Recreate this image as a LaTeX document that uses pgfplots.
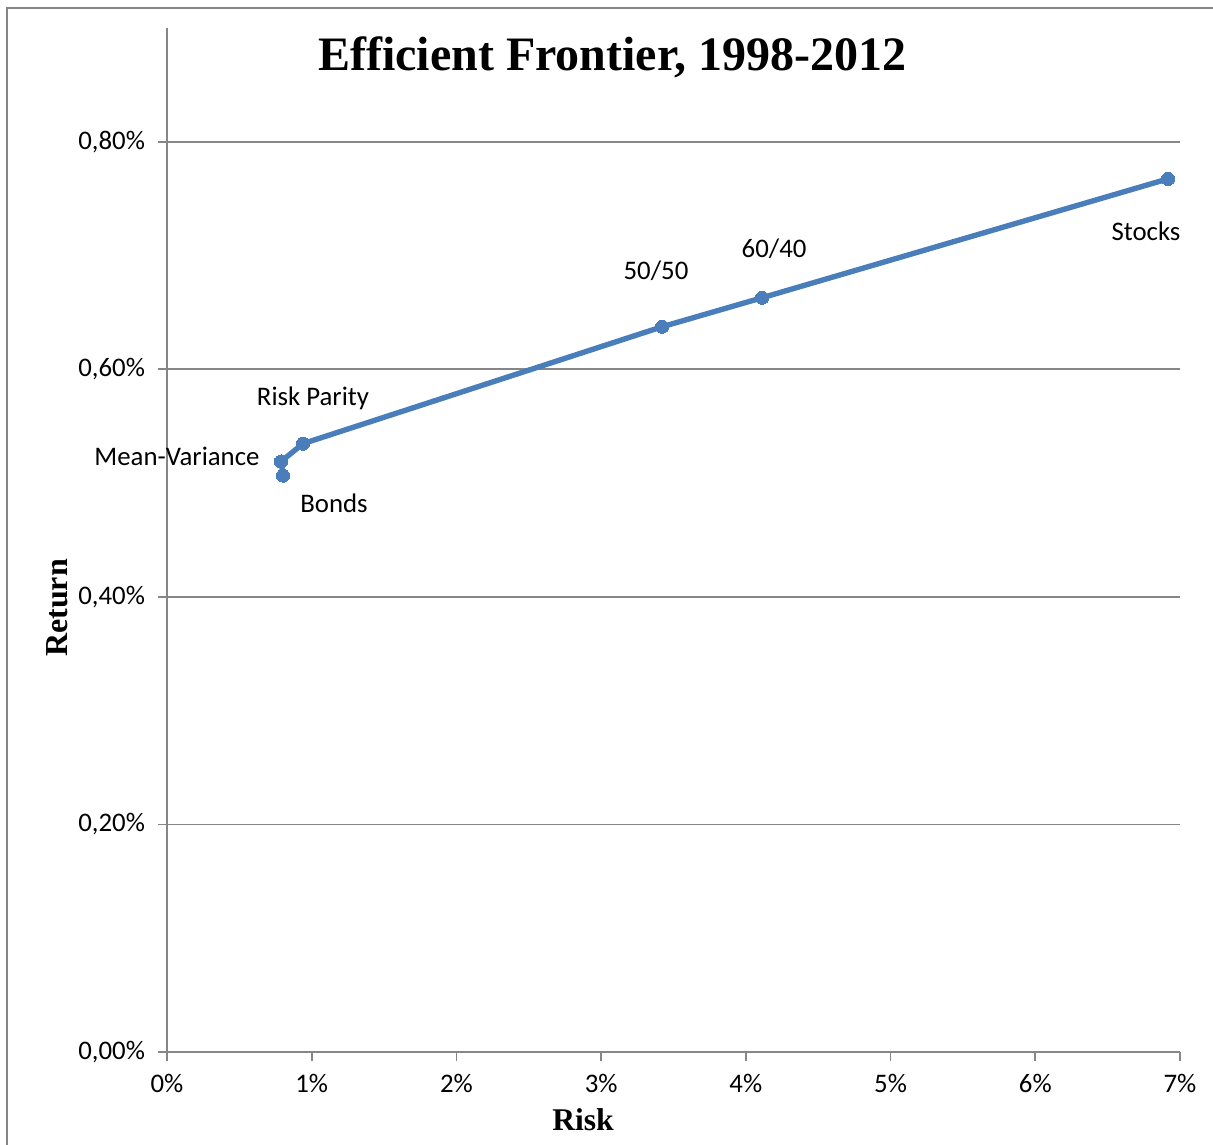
\documentclass[border=0pt]{standalone}
\usepackage{pgfplots}
\pgfplotsset{compat=1.18}
\usepackage{fontspec}
\setmainfont{Carlito}
\newfontfamily\tnr{Liberation Serif}
\definecolor{lineblue}{RGB}{74,126,187}
\definecolor{axgray}{RGB}{134,134,134}
\begin{document}
\begin{tikzpicture}
  \path[use as bounding box] (-83.5pt,-46pt) rectangle (523pt,526pt);
  % outer chart frame
  \draw[axgray, line width=1pt] (-80pt,-50pt) -- (-80pt,522pt) -- (530pt,522pt);
  \begin{axis}[
      at={(0pt,0pt)}, anchor=south west,
      scale only axis,
      width=506.5pt, height=512pt,
      xmin=0, xmax=7, ymin=0, ymax=0.9,
      axis x line=bottom, axis y line=left,
      axis line style={axgray, line width=0.9pt, -},
      xtick={0,1,...,7},
      xticklabels={0\%,1\%,2\%,3\%,4\%,5\%,6\%,7\%},
      ytick={0,0.2,0.4,0.6,0.8},
      yticklabels={{0,00\%},{0,20\%},{0,40\%},{0,60\%},{0,80\%}},
      tick style={axgray, line width=0.9pt},
      major tick length=4.5pt,
      xtick pos=bottom, ytick pos=left,
      tick align=outside,
      ymajorgrids,
      grid style={axgray, line width=0.9pt},
      tick label style={font=\fontsize{13.4}{16}\selectfont, text=black},
      yticklabel style={xshift=-3pt},
      xticklabel style={yshift=-3pt},
      clip=false,
    ]
    \addplot[lineblue, line width=2.7pt, mark=*, mark size=3.3pt,
             mark options={solid, fill=lineblue, draw=lineblue, line width=0pt}]
      coordinates {
        (0.802,0.5066) (0.788,0.519) (0.940,0.5347)
        (3.421,0.6374) (4.112,0.6629) (6.917,0.7674)
      };
    \begin{scope}[every node/.style={font=\fontsize{13.4}{16}\selectfont}]
      \node at (axis cs:0.069,0.5234) {Mean-Variance};
      \node at (axis cs:1.154,0.482) {Bonds};
      \node at (axis cs:1.009,0.5742) {Risk Parity};
      \node at (axis cs:3.379,0.6866) {50/50};
      \node at (axis cs:4.195,0.7059) {60/40};
      \node at (axis cs:6.765,0.7217) {Stocks};
    \end{scope}
  \end{axis}
  \node[font=\tnr\bfseries\fontsize{24}{28}\selectfont] at (222.5pt,497.5pt) {Efficient Frontier, 1998-2012};
  \node[font=\tnr\bfseries\fontsize{16}{20}\selectfont, rotate=90] at (-55pt,222pt) {Return};
  \node[font=\tnr\bfseries\fontsize{15.8}{20}\selectfont] at (208pt,-34pt) {Risk};
\end{tikzpicture}
\end{document}
